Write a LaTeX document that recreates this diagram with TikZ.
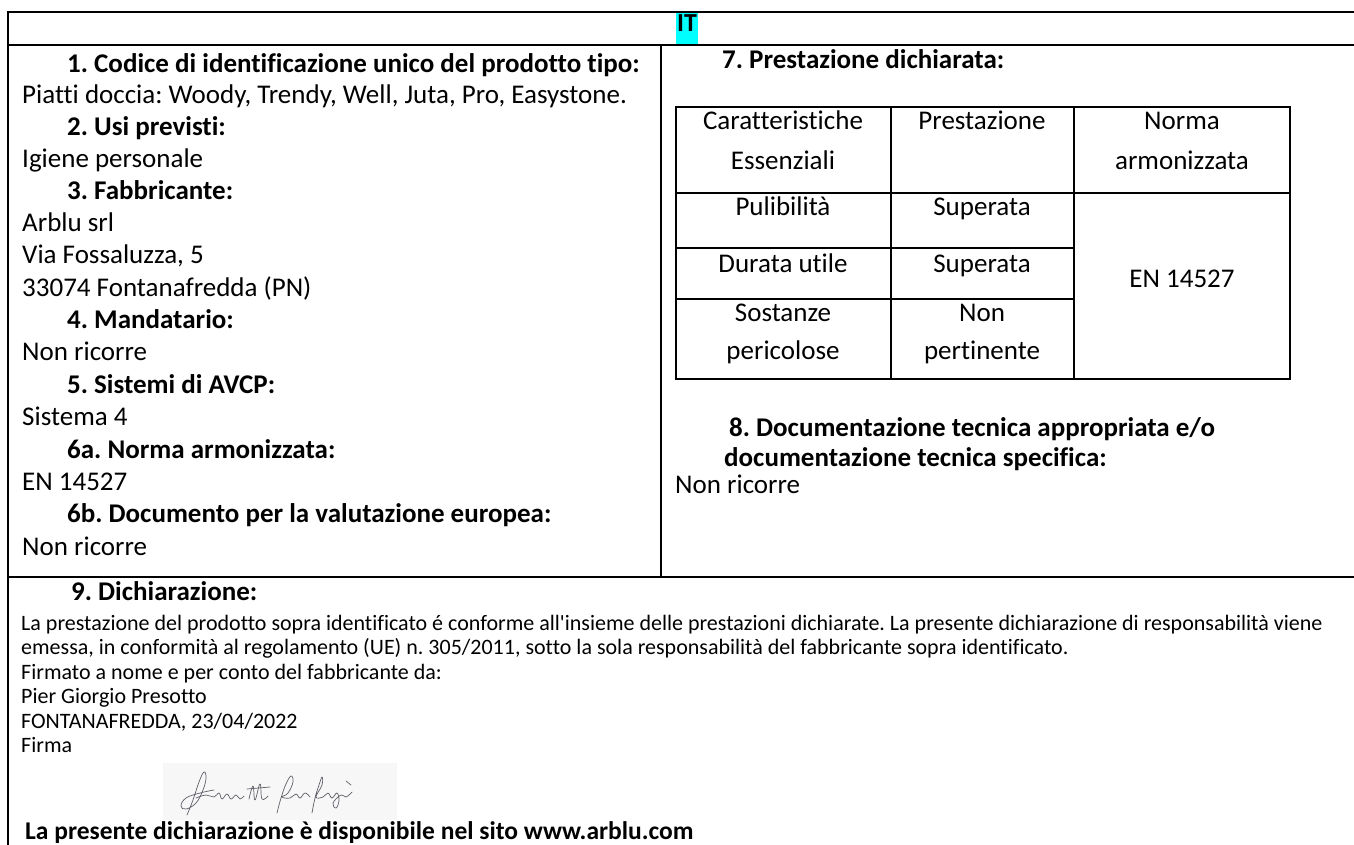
\documentclass[tikz,border=0pt]{standalone}
\usepackage{fontspec}
\setmainfont{Carlito}[Ligatures={TeXOff,CommonOff}]
\definecolor{hl}{RGB}{0,255,255}
\definecolor{siggray}{RGB}{95,95,105}
\begin{document}
\frenchspacing
\begin{tikzpicture}[x=1pt,y=-1pt,
  body/.style={anchor=mid west, inner sep=0pt, font=\fontsize{27}{32}\selectfont},
  head/.style={anchor=mid west, inner sep=0pt, font=\fontsize{27}{32}\selectfont\bfseries},
  small/.style={anchor=mid west, inner sep=0pt, font=\fontsize{22}{26}\selectfont},
  cell/.style={anchor=mid, inner sep=0pt, font=\fontsize{27}{32}\selectfont},
  frame/.style={line width=2pt},
  tab/.style={line width=1.6pt},
  sig/.style={draw=siggray, line width=0.7pt, line cap=round, line join=round}]
\useasboundingbox (0,0) rectangle (1354,845);
\clip (0,0) rectangle (1354,845);
% frame
\draw[frame] (1380,12) -- (8,12) -- (8,870);
\draw[frame] (8,45) -- (1380,45);
\draw[frame] (661,45) -- (661,577);
\draw[frame] (8,577) -- (1380,577);
% header
\fill[hl] (676,13) rectangle (698,44);
\node[anchor=base, inner sep=0pt, font=\fontsize{26}{30}\selectfont\bfseries] (it) at (687,32) {IT};
% left column
\node[head] (h1) at (67,70) {1. Codice di identificazione unico del prodotto tipo:};
\node[body] (b1) at (22,101) {Piatti doccia: Woody, Trendy, Well, Juta, Pro, Easystone.};
\node[head] (h2) at (67,133) {2. Usi previsti:};
\node[body] (b2) at (22,165) {Igiene personale};
\node[head] (h3) at (67,197) {3. Fabbricante:};
\node[body] (b3a) at (22,229) {Arblu srl};
\node[body] (b3b) at (22,261.5) {Via Fossaluzza, 5};
\node[body] (b3c) at (22,294) {33074 Fontanafredda (PN)};
\node[head] (h4) at (67,326) {4. Mandatario:};
\node[body] (b4) at (22,358.5) {Non ricorre};
\node[head] (h5) at (67,391) {5. Sistemi di AVCP:};
\node[body] (b5) at (22,423.5) {Sistema 4};
\node[head] (h6a) at (67,456) {6a. Norma armonizzata:};
\node[body] (b6a) at (22,488) {EN 14527};
\node[head] (h6b) at (67,520) {6b. Documento per la valutazione europea:};
\node[body] (b6b) at (22,553) {Non ricorre};
% right column
\node[head] (h7) at (722,66) {7. Prestazione dichiarata:};
\draw[tab] (676,107) rectangle (1290,379);
\draw[tab] (891,107) -- (891,379);
\draw[tab] (1074,107) -- (1074,379);
\draw[tab] (676,193) -- (1290,193);
\draw[tab] (676,248) -- (1074,248);
\draw[tab] (676,299) -- (1074,299);
\node[cell] (c11a) at (783,127) {Caratteristiche};
\node[cell] (c11b) at (783,167) {Essenziali};
\node[cell] (c12) at (982,127) {Prestazione};
\node[cell] (c13a) at (1182,127) {Norma};
\node[cell] (c13b) at (1182,167) {armonizzata};
\node[cell] (c21) at (783,213) {Pulibilità};
\node[cell] (c22) at (982,213) {Superata};
\node[cell] (c31) at (783,270) {Durata utile};
\node[cell] (c32) at (982,270) {Superata};
\node[cell] (c41a) at (783,319) {Sostanze};
\node[cell] (c41b) at (783,357) {pericolose};
\node[cell] (c42a) at (982,319) {Non};
\node[cell] (c42b) at (982,357) {pertinente};
\node[cell] (c3) at (1182,285) {EN 14527};
\node[head] (h8a) at (729,434) {8. Documentazione tecnica appropriata e/o};
\node[head] (h8b) at (724,464) {documentazione tecnica specifica:};
\node[body] (b8) at (675,491) {Non ricorre};
% section 9
\node[head] (h9) at (71,598) {9. Dichiarazione:};
\node[small] (s1) at (21,628) {La prestazione del prodotto sopra identificato é conforme all'insieme delle prestazioni dichiarate. La presente dichiarazione di responsabilità viene};
\node[small] (s2) at (21,652.5) {emessa, in conformità al regolamento (UE) n. 305/2011, sotto la sola responsabilità del fabbricante sopra identificato.};
\node[small] (s3) at (21,677) {Firmato a nome e per conto del fabbricante da:};
\node[small] (s4) at (21,701.5) {Pier Giorgio Presotto};
\node[small] (s5) at (21,726) {FONTANAFREDDA, 23/04/2022};
\node[small] (s6) at (21,750.5) {Firma};
% signature
\fill[black!3] (163,763) rectangle (397,820);
\draw[sig] plot[smooth, tension=0.7] coordinates {(214,790) (200,793) (186,798) (181,806) (186,809) (196,803) (203,790) (206,778) (204,772) (199,782) (193,800) (187,815)};
\draw[sig] plot[smooth, tension=0.7] coordinates {(196,798) (206,795) (214,797) (219,793) (222,799) (227,794) (231,799) (236,795) (240,799) (244,796)};
\draw[sig] plot[smooth, tension=0.7] coordinates {(249,799) (253,786) (255,800) (260,784) (262,799) (268,796)};
\draw[sig] (247,789) -- (270,787);
\draw[sig] plot[smooth, tension=0.7] coordinates {(277,813) (281,798) (286,784) (291,776) (293,782) (288,793) (282,797) (290,798) (296,794) (300,798) (305,793) (310,797)};
\draw[sig] plot[smooth, tension=0.7] coordinates {(312,813) (315,798) (319,785) (322,777) (322,785) (316,797) (323,797) (328,793) (332,798) (337,793) (339,801) (336,808) (333,803) (341,795) (346,797) (352,792)};
\draw[sig] (346,781) -- (351,785);
% footer
\node[anchor=mid west, inner sep=0pt, font=\fontsize{25.5}{30}\selectfont\bfseries] (foot) at (25,837) {La presente dichiarazione è disponibile nel sito www.arblu.com};
\end{tikzpicture}
\end{document}
